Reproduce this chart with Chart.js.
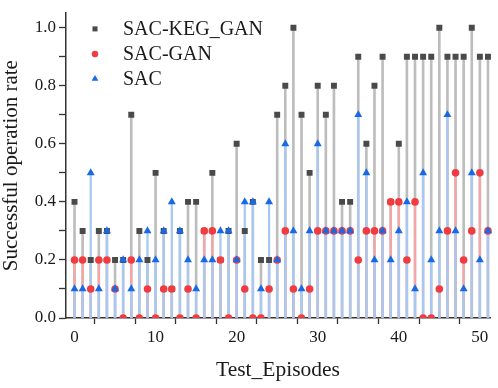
<!DOCTYPE html>
<html lang="en">
<head>
    <meta charset="UTF-8">
    <title>Successful operation rate</title>
    <script src="https://cdn.jsdelivr.net/npm/chart.js"></script>
    <style>
        body {
            margin: 0;
            padding: 0;
            background-color: #ffffff;
        }
        .chart-container {
            position: relative;
            width: 498px;
            height: 388px;
        }
    </style>
</head>
<body>
    <div class="chart-container">
        <canvas id="rateChart"></canvas>
    </div>

    <script>
        // episodes 0..51
        const episodes = [];
        for (let i = 0; i <= 51; i++) episodes.push(i);

        const sacKegGan = [0.4, 0.3, 0.2, 0.3, 0.3, 0.2, 0.2, 0.7, 0.3, 0.2,
                           0.5, 0.3, 0.1, 0.3, 0.4, 0.4, 0.3, 0.5, 0.2, 0.3,
                           0.6, 0.3, 0.4, 0.2, 0.2, 0.7, 0.8, 1.0, 0.7, 0.5,
                           0.8, 0.7, 0.8, 0.4, 0.4, 0.9, 0.6, 0.8, 0.9, 0.4,
                           0.6, 0.9, 0.9, 0.9, 0.9, 1.0, 0.9, 0.9, 0.9, 1.0,
                           0.9, 0.9];
        const sacGan = [0.2, 0.2, 0.1, 0.2, 0.2, 0.1, 0.0, 0.2, 0.0, 0.1,
                        0.0, 0.1, 0.1, 0.0, 0.1, 0.0, 0.3, 0.3, 0.2, 0.0,
                        0.2, 0.1, 0.0, 0.0, 0.1, 0.2, 0.3, 0.1, 0.0, 0.1,
                        0.3, 0.3, 0.3, 0.3, 0.3, 0.2, 0.3, 0.3, 0.3, 0.4,
                        0.4, 0.2, 0.4, 0.0, 0.0, 0.1, 0.3, 0.5, 0.2, 0.3,
                        0.5, 0.3];
        const sac = [0.1, 0.1, 0.5, 0.1, 0.3, 0.1, 0.2, 0.1, 0.2, 0.3,
                     0.2, 0.3, 0.4, 0.3, 0.2, 0.1, 0.2, 0.2, 0.3, 0.3,
                     0.2, 0.4, 0.4, 0.1, 0.4, 0.2, 0.6, 0.3, 0.1, 0.3,
                     0.6, 0.3, 0.3, 0.3, 0.3, 0.7, 0.5, 0.2, 0.3, 0.2,
                     0.3, 0.4, 0.1, 0.5, 0.2, 0.3, 0.7, 0.3, 0.1, 0.5,
                     0.2, 0.3];

        const xTicks = [0, 5, 10, 15, 20, 25, 30, 35, 40, 45, 50];
        const yTicks = [0, 0.1, 0.2, 0.3, 0.4, 0.5, 0.6, 0.7, 0.8, 0.9, 1.0];

        const toXY = arr => arr.map((v, i) => ({ x: episodes[i], y: v }));
        const serif = "'Liberation Serif', 'Times New Roman', serif";
        Chart.defaults.font.family = serif;
        Chart.defaults.color = '#1a1a1a';

        const series = [
            { label: 'SAC-KEG_GAN', data: sacKegGan, color: '#4a4a4a', stem: '#bdbdbd', stemW: 2, style: 'rect', r: 4.2 },
            { label: 'SAC-GAN', data: sacGan, color: '#f03c40', stem: '#f6a4a6', stemW: 1.6, style: 'circle', r: 3.8 },
            { label: 'SAC', data: sac, color: '#1769e6', stem: '#a8c8f3', stemW: 1.6, style: 'triangle', r: 4.6 }
        ];

        const datasets = [];
        series.forEach((s, k) => {
            // drop line from 0 up to the value
            datasets.push({
                type: 'bar',
                label: s.label + ' stem',
                data: toXY(s.data),
                backgroundColor: s.stem,
                borderWidth: 0,
                barThickness: s.stemW,
                grouped: false,
                order: 5 - k
            });
            datasets.push({
                type: 'scatter',
                label: s.label,
                data: toXY(s.data),
                pointStyle: s.style,
                pointRadius: s.r,
                pointBackgroundColor: s.color,
                pointBorderWidth: 0,
                clip: { left: 6, top: 6, right: 6, bottom: 0 },
                order: 2 - k
            });
        });

        // legend drawn inside the plot, top-left
        const insideLegend = {
            id: 'insideLegend',
            afterDatasetsDraw(chart) {
                const { ctx, chartArea } = chart;
                ctx.save();
                series.forEach((s, k) => {
                    const y = chartArea.top + 15.7 + k * 25;
                    ctx.fillStyle = s.color;
                    Chart.helpers.drawPoint(ctx, { pointStyle: s.style, radius: s.r * 0.85, rotation: 0, borderWidth: 0 }, chartArea.left + 29, y);
                    ctx.fillStyle = '#1a1a1a';
                    ctx.font = '20px ' + serif;
                    ctx.textBaseline = 'middle';
                    ctx.textAlign = 'left';
                    ctx.fillText(s.label, chartArea.left + 57, y + 1);
                });
                ctx.restore();
            }
        };

        const tickFont = { family: serif, size: 17 };

        const ctx = document.getElementById('rateChart').getContext('2d');
        const rateChart = new Chart(ctx, {
            type: 'bar',
            data: { datasets: datasets },
            plugins: [insideLegend],
            options: {
                responsive: true,
                maintainAspectRatio: false,
                animation: false,
                layout: { padding: { left: 0, right: 8, top: 2, bottom: 0 } },
                plugins: {
                    legend: { display: false },
                    tooltip: { enabled: false }
                },
                scales: {
                    x: {
                        type: 'linear',
                        min: -1.05,
                        max: 51.25,
                        offset: false,
                        afterBuildTicks: scale => { scale.ticks = xTicks.map(v => ({ value: v })); },
                        afterFit: scale => { scale.height = 70; },
                        grid: { drawOnChartArea: false, drawTicks: true, tickLength: 6, tickColor: '#333', tickWidth: 1.3 },
                        border: { display: true, color: '#333', width: 1.5 },
                        ticks: {
                            autoSkip: false,
                            maxRotation: 0,
                            padding: 3,
                            color: '#1a1a1a',
                            font: tickFont,
                            callback: v => (v % 10 === 0 ? String(v) : '')
                        },
                        title: {
                            display: true,
                            text: 'Test_Episodes',
                            color: '#1a1a1a',
                            font: { family: serif, size: 21.5, lineHeight: 1.2 },
                            padding: { top: 0, bottom: 5 }
                        }
                    },
                    y: {
                        min: 0,
                        max: 1.05,
                        afterBuildTicks: scale => { scale.ticks = yTicks.map(v => ({ value: v })); },
                        afterFit: scale => { scale.width = 66; },
                        grid: { drawOnChartArea: false, drawTicks: true, tickLength: 7, tickColor: '#333', tickWidth: 1.3 },
                        border: { display: true, color: '#333', width: 1.5 },
                        ticks: {
                            autoSkip: false,
                            padding: 3,
                            color: '#1a1a1a',
                            font: tickFont,
                            callback: v => (Math.round(v * 10) % 2 === 0 ? v.toFixed(1) : '')
                        },
                        title: {
                            display: true,
                            text: 'Successful operation rate',
                            color: '#1a1a1a',
                            font: { family: serif, size: 21, lineHeight: 1 },
                            padding: { top: 1, bottom: 0 }
                        }
                    }
                }
            }
        });
    </script>
</body>
</html>
